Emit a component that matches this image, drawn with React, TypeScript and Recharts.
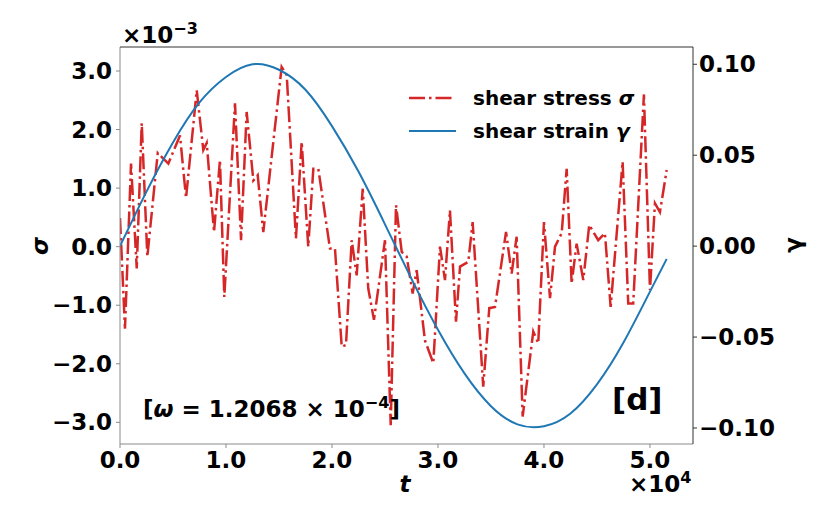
import { LineChart, Line, XAxis, YAxis } from "recharts";

// t in units of 1e4, sigma in units of 1e-3
const T_STRESS = [
  0.0, 0.047, 0.104, 0.158, 0.205, 0.258, 0.356, 0.456, 0.566, 0.623, 0.724,
  0.786, 0.818, 0.887, 0.943, 0.984, 1.085, 1.142, 1.195, 1.258, 1.299, 1.352,
  1.525, 1.573, 1.66, 1.714, 1.776, 1.824, 1.871, 1.981, 2.028, 2.092, 2.132,
  2.186, 2.233, 2.29, 2.342, 2.396, 2.5, 2.554, 2.604, 2.658, 2.705, 2.761,
  2.799, 2.877, 2.956, 3.019, 3.066, 3.113, 3.17, 3.208, 3.286, 3.327, 3.427,
  3.484, 3.538, 3.642, 3.695, 3.742, 3.799, 3.899, 3.946, 4.0, 4.057, 4.104,
  4.167, 4.214, 4.261, 4.308, 4.371, 4.427, 4.512, 4.575, 4.629, 4.742, 4.795,
  4.842, 4.943, 5.0, 5.047, 5.094, 5.158,
];
const SIGMA = [
  0.49, -1.4, 1.42, -0.37, 2.11, -0.17, 1.6, 1.42, 1.9, 0.83, 2.67,
  1.65, 1.77, 0.25, 1.48, -0.86, 2.45, 0.11, 2.3, 1.13, 1.22, 0.25,
  3.07, 2.93, 0.14, 1.79, 0.0, 1.33, 1.33, -0.03, -0.03, -1.71, -1.68,
  0.11, -0.49, 0.99, -0.71, -1.25, 0.11, -3.05, 0.71, -0.09, -0.17, -0.8,
  -0.4, -1.6, -1.99, 0.0, -0.57, 0.62, -1.28, -0.34, -0.26, 0.42, -2.39,
  -1.05, -1.03, 0.25, -0.46, 0.17, -2.9, -1.45, -1.65, 0.42, -0.88, 0.0,
  0.23, 1.33, -0.63, 0.05, -0.57, 0.37, 0.11, 0.23, -1.03, 1.45, -0.97,
  -0.97, 2.6, -0.74, 0.74, 0.59, 1.31,
];

const T_STRAIN = [
  0, 0.25, 0.5, 0.75, 1.0, 1.25, 1.5, 1.75, 2.0, 2.25, 2.5, 2.75, 3.0, 3.25,
  3.5, 3.75, 4.0, 4.25, 4.5, 4.75, 5.0, 5.158,
];
const GAMMA = [
  0, 0.03, 0.057, 0.079, 0.093, 0.1, 0.097, 0.086, 0.066, 0.041, 0.012,
  -0.018, -0.046, -0.07, -0.088, -0.098, -0.099, -0.092, -0.076, -0.053,
  -0.025, -0.007,
];

const X_TICKS = [0, 1, 2, 3, 4, 5];
const SIGMA_TICKS = [-3, -2, -1, 0, 1, 2, 3];
const GAMMA_TICKS = [-0.1, -0.05, 0, 0.05, 0.1];

const stressData = T_STRESS.map((t, i) => ({ t, sigma: SIGMA[i] }));
const strainData = T_STRAIN.map((t, i) => ({ t, gamma: GAMMA[i] }));

const FONT = "'DejaVu Sans', sans-serif";
const RED = "#d62728";
const BLUE = "#1f77b4";
const DASH = "16 4 2.5 4";

const tickStyle = { fill: "#000", fontSize: 23, fontWeight: "bold", fontFamily: FONT };
const fmt = (d: number) => (v: number) =>
  (v < 0 ? "\u2212" : "") + Math.abs(v).toFixed(d);

export default function App() {
  return (
    <div style={{ position: "absolute", left: 0, top: 0, width: 830, height: 525, background: "#fff" }}>
      <LineChart width={830} height={525} margin={{ top: 47, right: 0, bottom: 0, left: 0 }}>
        <XAxis
          dataKey="t"
          type="number"
          domain={[0, 5.406]}
          ticks={X_TICKS}
          allowDataOverflow
          tickFormatter={fmt(1)}
          tick={tickStyle}
          tickSize={4}
          tickMargin={4}
          height={81}
          stroke="#8a8a8a"
        />
        <YAxis
          yAxisId="left"
          type="number"
          domain={[-3.37, 3.41]}
          ticks={SIGMA_TICKS}
          allowDataOverflow
          tickFormatter={fmt(1)}
          tick={tickStyle}
          tickSize={4}
          tickMargin={4}
          width={120}
          stroke="#8a8a8a"
        />
        <YAxis
          yAxisId="right"
          orientation="right"
          type="number"
          domain={[-0.1088, 0.1095]}
          ticks={GAMMA_TICKS}
          allowDataOverflow
          tickFormatter={fmt(2)}
          tick={tickStyle}
          tickSize={4}
          tickMargin={2}
          width={137}
          stroke="#333"
        />
        <Line
          data={stressData}
          yAxisId="left"
          dataKey="sigma"
          type="linear"
          stroke={RED}
          strokeWidth={2.5}
          strokeDasharray={DASH}
          dot={false}
          activeDot={false}
          isAnimationActive={false}
        />
        <Line
          data={strainData}
          yAxisId="right"
          dataKey="gamma"
          type="natural"
          stroke={BLUE}
          strokeWidth={2}
          dot={false}
          activeDot={false}
          isAnimationActive={false}
        />
      </LineChart>
      <svg
        width={830}
        height={525}
        style={{ position: "absolute", left: 0, top: 0, pointerEvents: "none" }}
        fontFamily={FONT}
        fontWeight="bold"
      >
        {/* top spine */}
        <line x1={120} y1={47} x2={693} y2={47} stroke="#333" strokeWidth={1} />
        <text x={122} y={43} fontSize={23}>
          ×10<tspan dy={-9} fontSize={16}>{"\u22123"}</tspan>
        </text>
        <text x={629} y={492} fontSize={23}>
          ×10<tspan dy={-9} fontSize={16}>4</tspan>
        </text>
        <text x={405} y={492} fontSize={23} fontStyle="italic" textAnchor="middle">t</text>
        <text x={40} y={246} fontSize={23} fontStyle="italic" textAnchor="middle" dominantBaseline="central" transform="rotate(-90 40 246)">σ</text>
        <text x={793} y={245} fontSize={23} textAnchor="middle" dominantBaseline="central" transform="rotate(-90 793 245)">γ</text>
        <text x={143} y={417} fontSize={23}>
          [<tspan fontStyle="italic">ω</tspan> = 1.2068 × 10<tspan dy={-9} fontSize={16}>{"\u22124"}</tspan><tspan dy={9}>]</tspan>
        </text>
        <text x={612} y={410} fontSize={31}>[d]</text>
        <line x1={409} y1={98} x2={453} y2={98} stroke={RED} strokeWidth={2.5} strokeDasharray={DASH} />
        <text x={473} y={105} fontSize={20}>
          shear stress <tspan fontStyle="italic">σ</tspan>
        </text>
        <line x1={409} y1={131} x2={456} y2={131} stroke={BLUE} strokeWidth={2} />
        <text x={473} y={138} fontSize={20}>
          shear strain <tspan fontStyle="italic">γ</tspan>
        </text>
      </svg>
    </div>
  );
}
